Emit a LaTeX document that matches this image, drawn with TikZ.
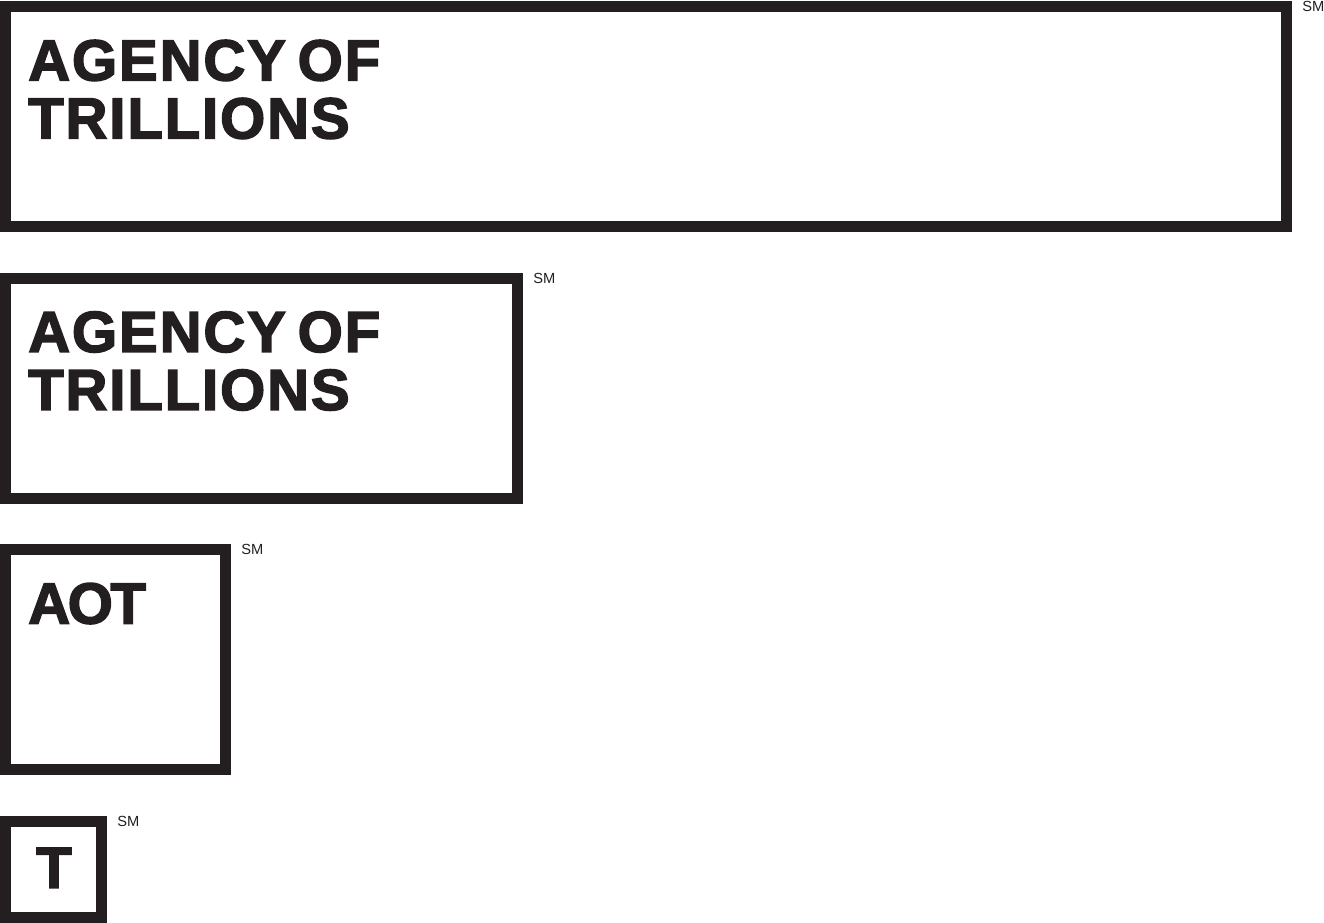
\documentclass[tikz,border=0pt]{standalone}
\usepackage{fontspec}
\setmainfont{Liberation Sans}
\newfontfamily\logofont[UprightFont={* Bold},FakeBold=2.6,LetterSpace=3.3,WordSpace=0.65]{Liberation Sans}
\usepackage{xcolor}
\usepackage{tikz}
\usetikzlibrary{positioning}
\definecolor{logoblack}{HTML}{231F20}

\begin{document}
\begin{tikzpicture}[
    node distance=30.4pt,
    frame/.style={draw=logoblack, line width=8.25pt, rectangle, inner sep=0pt},
    title/.style={text=logoblack, inner sep=0pt, anchor=north west, align=left, font=\logofont\fontsize{43.5}{43.5}\selectfont},
    smmark/.style={text=logoblack, inner sep=0pt, anchor=north west, font=\fontsize{11}{11}\selectfont}
]
\useasboundingbox (0,0) rectangle (993pt,-691.5pt);

% Full name, wide
\node (wide) [frame, anchor=north west, minimum width=960.75pt, minimum height=165pt] at (0pt,-0.75pt) {};
\node (widetitle) [title] at ([shift={(21pt,-29pt)}]wide.north west) {AGENCY OF\\TRILLIONS};
\node (widesm) [smmark] at ([shift={(7.5pt,0pt)}]wide.north east) {SM};

% Full name, short
\node (short) [frame, minimum width=384pt, minimum height=165pt, below=of wide.south west, anchor=north west] {};
\node (shorttitle) [title] at ([shift={(21pt,-29pt)}]short.north west) {AGENCY OF\\TRILLIONS};
\node (shortsm) [smmark] at ([shift={(7.5pt,0pt)}]short.north east) {SM};

% Initials
\node (initials) [frame, minimum width=165pt, minimum height=165pt, below=of short.south west, anchor=north west] {};
\node (initialstitle) [title] at ([shift={(21pt,-29pt)}]initials.north west) {A\kern-1.8pt O\kern-1.8pt T};
\node (initialssm) [smmark] at ([shift={(7.5pt,0pt)}]initials.north east) {SM};

% Single letter
\node (letter) [frame, minimum width=72pt, minimum height=72pt, below=of initials.south west, anchor=north west] {};
\node (lettertitle) [title] at ([shift={(27pt,-24pt)}]letter.north west) {T};
\node (lettersm) [smmark] at ([shift={(7.5pt,0pt)}]letter.north east) {SM};

\end{tikzpicture}
\end{document}
